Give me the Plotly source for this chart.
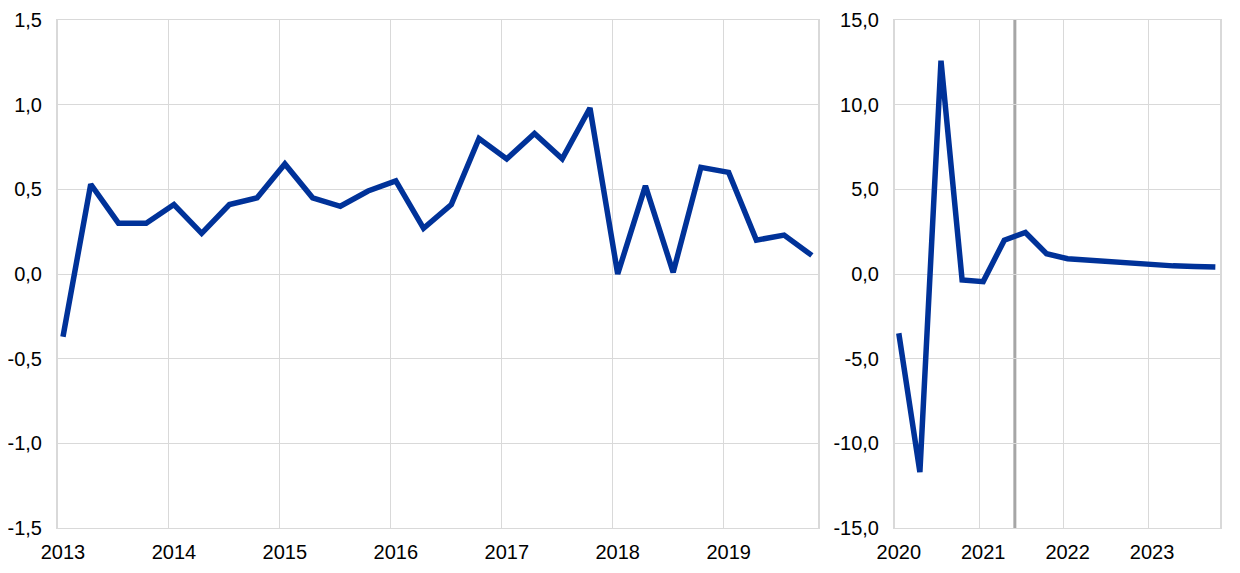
import plotly.graph_objects as go
from plotly.subplots import make_subplots

# Left panel: quarterly data 2013Q1-2019Q4
quarters_left = [f"{y}Q{q}" for y in range(2013, 2020) for q in range(1, 5)]
values_left = [-0.37, 0.53, 0.30, 0.30, 0.41, 0.24, 0.41, 0.45,
               0.65, 0.45, 0.40, 0.49, 0.55, 0.27, 0.41, 0.80,
               0.68, 0.83, 0.68, 0.98, 0.00, 0.52, 0.01, 0.63,
               0.60, 0.20, 0.23, 0.11]

# Right panel: quarterly data 2020Q1-2023Q4
quarters_right = [f"{y}Q{q}" for y in range(2020, 2024) for q in range(1, 5)]
values_right = [-3.5, -11.7, 12.6, -0.35, -0.45, 2.0, 2.45, 1.2,
                0.9, 0.8, 0.7, 0.6, 0.55, 0.48, 0.45, 0.42]

left_years = [2013, 2014, 2015, 2016, 2017, 2018, 2019]
right_years = [2020, 2021, 2022, 2023]
left_yticks = [-1.5, -1.0, -0.5, 0.0, 0.5, 1.0, 1.5]
left_ylabels = ["-1,5", "-1,0", "-0,5", "0,0", "0,5", "1,0", "1,5"]
right_yticks = [-15, -10, -5, 0, 5, 10, 15]
right_ylabels = ["-15,0", "-10,0", "-5,0", "0,0", "5,0", "10,0", "15,0"]
cutoff = 2021.42  # vertical marker position


def to_x(q):
    y, qq = q.split("Q")
    return int(y) + (int(qq) - 1) * 0.25 + 0.045


fig = make_subplots(rows=1, cols=2, horizontal_spacing=0.0)

BLUE = "#003299"
GRID = "#d9d9d9"

fig.add_trace(go.Scatter(x=[to_x(q) for q in quarters_left], y=values_left,
                         mode="lines", line=dict(color=BLUE, width=5.5),
                         showlegend=False), row=1, col=1)
fig.add_trace(go.Scatter(x=[to_x(q) for q in quarters_right], y=values_right,
                         mode="lines", line=dict(color=BLUE, width=5.5),
                         showlegend=False), row=1, col=2)

fig.add_shape(type="line", xref="x2", yref="y2 domain", x0=cutoff, x1=cutoff,
              y0=0, y1=1, line=dict(color="#a6a6a6", width=3), layer="below")

axis_font = dict(family="Liberation Sans, Arial, sans-serif", size=20, color="#000000")


def xaxis_cfg(domain, rng, years):
    return dict(domain=domain, range=rng,
                tickvals=[to_x(f"{y}Q1") for y in years],
                ticktext=[str(y) for y in years],
                showgrid=False,
                minor=dict(tickvals=years, showgrid=True, gridcolor=GRID,
                           gridwidth=1, ticks=""),
                showline=True, linecolor=GRID, linewidth=1, mirror=True,
                zeroline=False, ticks="", tickfont=axis_font,
                ticklabelstandoff=6, automargin=False)


def yaxis_cfg(rng, vals, labels, standoff):
    return dict(range=rng, tickvals=vals, ticktext=labels,
                showgrid=True, gridcolor=GRID, gridwidth=1,
                showline=True, linecolor=GRID, linewidth=2, mirror=True,
                zeroline=False, ticks="", tickfont=axis_font,
                ticklabelstandoff=standoff, automargin=False)


fig.update_layout(
    width=1232, height=565,
    margin=dict(l=50, r=20, t=12, b=45),
    plot_bgcolor="white", paper_bgcolor="white",
    font=axis_font,
    xaxis=xaxis_cfg([0, 0.654], [2013, 2019.85], left_years),
    yaxis=yaxis_cfg([-1.5, 1.5], left_yticks, left_ylabels, 10),
    xaxis2=xaxis_cfg([0.7203, 1], [2020, 2023.85], right_years),
    yaxis2=yaxis_cfg([-15, 15], right_yticks, right_ylabels, 10),
)

fig.write_html("out.html")
